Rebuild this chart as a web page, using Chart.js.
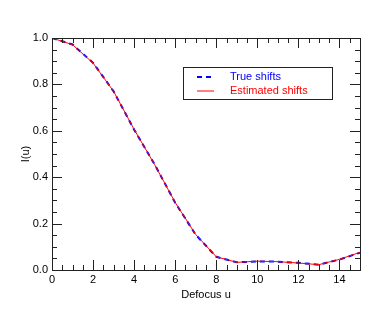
<!DOCTYPE html>
<html>
<head>
<meta charset="utf-8">
<script src="https://cdn.jsdelivr.net/npm/chart.js@4"></script>
<style>
  html, body { margin: 0; padding: 0; background: #fff; }
  #wrap { width: 390px; height: 312px; }
</style>
</head>
<body>
<div id="wrap"><canvas id="c" width="390" height="312"></canvas></div>
<script>
// defocus values u
const defocus = [0, 1, 2, 3, 4, 5, 6, 7, 8, 9, 10, 11, 12, 13, 14, 15];
// intensity, true shifts
const trueShifts = [1.0, 0.972, 0.893, 0.77, 0.605, 0.455, 0.29, 0.152, 0.057, 0.033, 0.037, 0.036, 0.031, 0.023, 0.045, 0.075];
// intensity, estimated shifts
const estShifts = [1.0, 0.971, 0.892, 0.77, 0.606, 0.454, 0.291, 0.153, 0.057, 0.033, 0.038, 0.036, 0.030, 0.023, 0.046, 0.076];

const xMajor = [0, 2, 4, 6, 8, 10, 12, 14];
const yMajor = [0, 0.2, 0.4, 0.6, 0.8, 1.0];

const font = { family: '"Liberation Sans", Arial, sans-serif', size: 11 };

function toPoints(xs, ys) {
    return xs.map((x, i) => ({ x: x, y: ys[i] }));
}

// frame + inward ticks on all four sides, plus legend box
const framePlugin = {
    id: 'frame',
    afterDatasetsDraw(chart) {
        const ctx = chart.ctx;
        const a = chart.chartArea;
        const xs = chart.scales.x, ys = chart.scales.y;
        ctx.save();
        ctx.strokeStyle = '#222';
        ctx.lineWidth = 1;
        ctx.strokeRect(Math.round(a.left) + 0.5, Math.round(a.top) + 0.5,
            Math.round(a.right - a.left), Math.round(a.bottom - a.top));

        ctx.beginPath();
        for (let v = 0; v <= 15.001; v += 0.5) {
            const px = Math.round(xs.getPixelForValue(v)) + 0.5;
            const len = (Math.abs(v % 2) < 1e-6) ? 10 : 5;
            ctx.moveTo(px, a.bottom); ctx.lineTo(px, a.bottom - len);
            ctx.moveTo(px, a.top); ctx.lineTo(px, a.top + len);
        }
        for (let k = 0; k <= 20; k++) {
            const py = Math.round(ys.getPixelForValue(k * 0.05)) + 0.5;
            const len = (k % 4 === 0) ? 10 : 5;
            ctx.moveTo(a.left, py); ctx.lineTo(a.left + len, py);
            ctx.moveTo(a.right, py); ctx.lineTo(a.right - len, py);
        }
        ctx.stroke();

        // legend
        const lx = 183, ly = 67, lw = 149, lh = 32;
        ctx.fillStyle = '#fff';
        ctx.fillRect(lx, ly, lw, lh);
        ctx.strokeStyle = '#222';
        ctx.strokeRect(lx + 0.5, ly + 0.5, lw, lh);
        ctx.font = '11px "Liberation Sans", Arial, sans-serif';
        ctx.textBaseline = 'middle';
        chart.data.datasets.forEach((ds, i) => {
            const y = ly + 10 + i * 14;
            ctx.beginPath();
            ctx.strokeStyle = ds.borderColor;
            ctx.lineWidth = ds.borderWidth;
            ctx.setLineDash(ds.borderDash || []);
            ctx.moveTo(197, y); ctx.lineTo(214, y);
            ctx.stroke();
            ctx.setLineDash([]);
            ctx.fillStyle = ds.borderColor;
            ctx.fillText(ds.label, 230, y);
        });
        ctx.restore();
    }
};

new Chart(document.getElementById('c'), {
    type: 'line',
    data: {
        datasets: [
            {
                label: 'True shifts',
                data: toPoints(defocus, trueShifts),
                borderColor: '#0000ff',
                borderWidth: 2,
                borderDash: [5, 4],
                pointRadius: 0,
                tension: 0,
                order: 2
            },
            {
                label: 'Estimated shifts',
                data: toPoints(defocus, estShifts),
                borderColor: '#ff0000',
                borderWidth: 1,
                pointRadius: 0,
                tension: 0,
                order: 1
            }
        ]
    },
    options: {
        responsive: false,
        animation: false,
        layout: { padding: { top: 38, right: 30, bottom: 10, left: 19 } },
        plugins: { legend: { display: false }, tooltip: { enabled: false } },
        scales: {
            x: {
                type: 'linear',
                min: 0, max: 15,
                afterBuildTicks(scale) { scale.ticks = xMajor.map(v => ({ value: v })); },
                afterFit(scale) { scale.height = 32; },
                grid: { display: false, drawTicks: false },
                border: { display: false },
                ticks: { color: '#000', font: font, padding: 3, maxRotation: 0, autoSkip: false },
                title: { display: true, text: 'Defocus u', color: '#000', font: font, padding: { top: 0, bottom: 0 } }
            },
            y: {
                type: 'linear',
                min: 0, max: 1,
                afterBuildTicks(scale) { scale.ticks = yMajor.map(v => ({ value: v })); },
                afterFit(scale) { scale.width = 33; },
                grid: { display: false, drawTicks: false },
                border: { display: false },
                ticks: { color: '#000', font: font, padding: 4, callback: v => v.toFixed(1) },
                title: { display: true, text: 'I(u)', color: '#000', font: font, padding: { top: 0, bottom: 0 } }
            }
        }
    },
    plugins: [framePlugin]
});
</script>
</body>
</html>
